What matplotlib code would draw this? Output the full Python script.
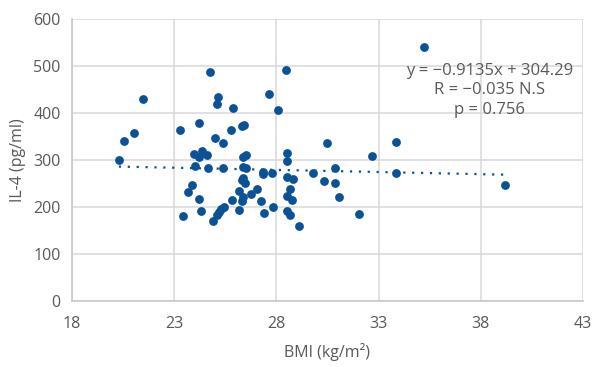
import numpy as np
import matplotlib
matplotlib.use("Agg")
import matplotlib.pyplot as plt

# BMI vs IL-4 scatter data
bmi = [20.3, 20.55, 21.05, 21.47, 23.31, 24.2, 24.76, 25.16, 25.1, 25.87,
       27.65, 25.77, 25.0, 25.4, 26.3, 26.4, 23.96, 24.38, 24.22, 24.6,
       24.04, 24.65, 25.4, 26.39, 26.5, 26.39, 26.5, 26.39, 27.36, 27.36,
       23.86, 23.66, 24.24, 24.34, 23.45, 24.92, 25.09, 25.18, 25.28, 25.46,
       25.85, 26.2, 26.34, 26.47, 26.36, 26.3, 26.2, 26.75, 27.07, 27.27,
       27.4, 27.82, 27.79, 28.51, 28.51, 28.51, 28.83, 28.67, 28.51, 28.77,
       28.51, 28.67, 29.1, 29.8, 30.32, 30.89, 30.89, 31.07, 32.04, 30.48,
       32.66, 33.84, 33.84, 35.24, 39.18, 28.47, 28.07]
il4 = [300, 340, 357, 430, 363, 379, 488, 435, 419, 411,
       441, 363, 347, 335, 372, 375, 313, 319, 306, 310,
       288, 282, 283, 307, 310, 285, 282, 262, 274, 269,
       246, 231, 217, 191, 181, 170, 182, 190, 195, 200,
       214, 234, 258, 250, 221, 212, 193, 228, 239, 212,
       187, 200, 272, 314, 298, 264, 260, 237, 223, 214,
       191, 182, 160, 272, 255, 250, 282, 220, 185, 335,
       308, 338, 273, 540, 247, 492, 407]

slope = -0.9135
intercept = 304.29
x_ticks = [18, 23, 28, 33, 38, 43]
y_ticks = [0, 100, 200, 300, 400, 500, 600]

blue = '#0b5196'
grey_text = '#595959'
plt.rcParams['font.family'] = ['Open Sans', 'DejaVu Sans']

fig = plt.figure(figsize=(6.05, 3.67), dpi=100)
ax = fig.add_axes([0.1187, 0.1807, 0.8449, 0.7673])

ax.scatter(bmi, il4, s=40, color=blue, zorder=3, linewidths=0)

# linear trendline over the data range
xt = np.array([min(bmi), max(bmi)])
ax.plot(xt, slope * xt + intercept, color=blue, linestyle=(0, (1, 3)),
        linewidth=1.6, zorder=2)

ax.set_xlim(18, 43)
ax.set_ylim(0, 600)
ax.set_xticks(x_ticks)
ax.set_yticks(y_ticks)
ax.grid(True, color='#d9d9d9', linewidth=1.1, zorder=0)
ax.set_axisbelow(True)
for side in ['top', 'right']:
    ax.spines[side].set_visible(False)
for side in ['left', 'bottom']:
    ax.spines[side].set_color('#c8c8c8')
    ax.spines[side].set_linewidth(1.2)
ax.tick_params(length=0, labelsize=11.5, colors=grey_text, pad=8)
ax.tick_params(axis='x', pad=11)

ax.set_xlabel('BMI (kg/m²)', fontsize=11.5, color=grey_text, labelpad=8)
ax.set_ylabel('IL-4 (pg/ml)', fontsize=11.5, color=grey_text, labelpad=5)

ax.text(38.45, 448, 'y = \u22120.9135x + 304.29\nR = \u22120.035 N.S\np = 0.756',
        ha='center', va='center', fontsize=12, color=grey_text,
        linespacing=1.3, zorder=4)

fig.savefig('out.png', dpi=100)
